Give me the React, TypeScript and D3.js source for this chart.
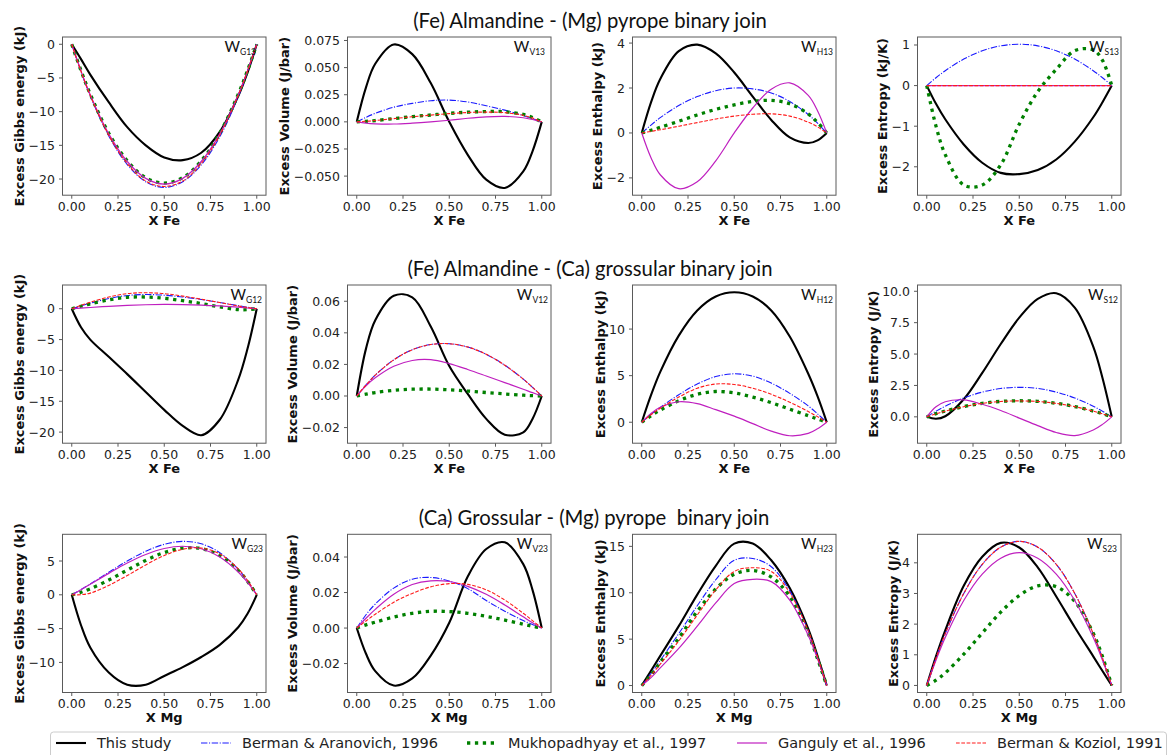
import React from 'react';
import * as d3 from 'd3';

// ---------- data ----------
const xFrac = [0, 0.05, 0.1, 0.2, 0.3, 0.4, 0.5, 0.6, 0.7, 0.8, 0.9, 0.95, 1];
const xTicks = [0, 0.25, 0.5, 0.75, 1];

const seriesNames = ['This study', 'Berman & Aranovich, 1996', 'Mukhopadhyay et al., 1997', 'Ganguly et al., 1996', 'Berman & Koziol, 1991'];

// Row 1: (Fe) Almandine - (Mg) pyrope
const g13This = [0, -2.2, -4.5, -8.6, -12.3, -15.0, -16.8, -17.2, -16.1, -13.0, -7.7, -4.2, 0];
const g13BA = [0, -4.04, -7.65, -13.6, -17.85, -20.4, -21.25, -20.4, -17.9, -13.75, -7.8, -4.1, 0];
const g13Mu = [0, -3.9, -7.4, -13.2, -17.3, -19.8, -20.6, -19.8, -17.3, -13.2, -7.4, -3.9, 0];
const g13Ga = [0, -3.95, -7.5, -13.3, -17.4, -19.9, -20.75, -19.9, -17.4, -13.3, -7.5, -3.95, 0];
const g13BK = [0, -4.0, -7.6, -13.5, -17.7, -20.3, -21.1, -20.3, -17.7, -13.5, -7.6, -4.0, 0];

const v13This = [0, 0.0318, 0.0535, 0.0713, 0.0624, 0.0357, 0, -0.0304, -0.0533, -0.0609, -0.0456, -0.0271, 0];
const v13BA = [0, 0.0042, 0.0078, 0.0135, 0.017, 0.0195, 0.02, 0.0183, 0.0148, 0.0108, 0.0058, 0.003, 0];
const v13Mu = [0, 0.0005, 0.0012, 0.003, 0.0048, 0.0063, 0.0078, 0.0089, 0.0095, 0.0093, 0.0068, 0.004, 0];
const v13Ga = [0, -0.0012, -0.0018, -0.002, -0.0012, 0, 0.0015, 0.0033, 0.0046, 0.005, 0.0038, 0.0022, 0];
const v13BK = [0, 0.0005, 0.0012, 0.003, 0.0047, 0.0062, 0.0076, 0.0086, 0.009, 0.0085, 0.006, 0.0035, 0];

const h13This = [0, 1.36, 2.4, 3.64, 3.93, 3.54, 2.69, 1.62, 0.58, -0.2, -0.45, -0.33, 0];
const h13BA = [0, 0.35, 0.68, 1.22, 1.62, 1.88, 2.0, 1.96, 1.78, 1.4, 0.82, 0.44, 0];
const h13Mu = [0, 0.12, 0.25, 0.52, 0.8, 1.05, 1.25, 1.4, 1.45, 1.3, 0.85, 0.47, 0];
const h13Ga = [0, -1.1, -1.86, -2.48, -2.17, -1.24, 0, 1.11, 1.95, 2.23, 1.67, 0.99, 0];
const h13BK = [0, 0.07, 0.14, 0.3, 0.46, 0.62, 0.75, 0.83, 0.85, 0.75, 0.48, 0.27, 0];

const s13This = [0, -0.45, -0.83, -1.45, -1.9, -2.15, -2.18, -2.08, -1.82, -1.38, -0.78, -0.41, 0];
const s13BA = [0, 0.194, 0.367, 0.653, 0.857, 0.979, 1.02, 0.979, 0.857, 0.653, 0.367, 0.194, 0];
const s13Mu = [0, -1.0, -1.7, -2.45, -2.45, -1.95, -0.95, -0.15, 0.4, 0.86, 0.88, 0.62, 0];
const s13Ga = [0, 0, 0, 0, 0, 0, 0, 0, 0, 0, 0, 0, 0];
const s13BK = [0, 0, 0, 0, 0, 0, 0, 0, 0, 0, 0, 0, 0];

// Row 2: (Fe) Almandine - (Ca) grossular
const g12This = [0, -3.0, -5.0, -7.8, -10.6, -13.5, -16.4, -19.0, -20.5, -18.0, -11.5, -6.5, 0];
const g12BA = [0, 0.45, 0.9, 1.65, 2.15, 2.3, 2.2, 1.9, 1.5, 1.0, 0.5, 0.25, 0];
const g12Mu = [0, 0.4, 0.8, 1.45, 1.85, 1.9, 1.7, 1.3, 0.85, 0.3, -0.15, -0.15, 0];
const g12Ga = [0, 0.1, 0.2, 0.4, 0.55, 0.65, 0.7, 0.68, 0.6, 0.45, 0.25, 0.12, 0];
const g12BK = [0, 0.55, 1.05, 1.9, 2.45, 2.6, 2.45, 2.05, 1.55, 1.0, 0.45, 0.2, 0];

const v12This = [0, 0.03, 0.048, 0.0635, 0.0625, 0.044, 0.019, 0.0013, -0.0145, -0.0245, -0.023, -0.0145, 0];
const v12BA = [0, 0.007, 0.0132, 0.0229, 0.0293, 0.0326, 0.0331, 0.031, 0.0264, 0.0195, 0.0107, 0.0055, 0];
const v12Mu = [0, 0.0012, 0.0022, 0.0036, 0.0043, 0.0044, 0.0039, 0.0031, 0.0022, 0.0013, 0.0005, 0.0002, 0];
const v12Ga = [0, 0.0065, 0.0115, 0.0188, 0.0225, 0.023, 0.0205, 0.0168, 0.0127, 0.0085, 0.0043, 0.0021, 0];
const v12BK = [0, 0.007, 0.0132, 0.0229, 0.0293, 0.0326, 0.0331, 0.031, 0.0264, 0.0195, 0.0107, 0.0055, 0];

const h12This = [0, 2.9, 5.4, 9.3, 12.0, 13.5, 13.95, 13.5, 12.0, 9.2, 5.2, 2.8, 0];
const h12BA = [0, 0.85, 1.6, 2.95, 4.1, 4.9, 5.2, 4.95, 4.2, 3.1, 1.75, 0.9, 0];
const h12Mu = [0, 0.7, 1.3, 2.3, 3.0, 3.3, 3.15, 2.7, 2.1, 1.4, 0.7, 0.35, 0];
const h12Ga = [0, 0.95, 1.6, 2.2, 2.0, 1.35, 0.65, -0.15, -0.95, -1.45, -1.2, -0.7, 0];
const h12BK = [0, 0.8, 1.5, 2.7, 3.65, 4.1, 4.05, 3.65, 3.0, 2.15, 1.15, 0.6, 0];

const s12This = [0, -0.15, 0.05, 1.4, 3.5, 5.8, 7.9, 9.4, 9.85, 8.7, 5.6, 3.1, 0];
const s12BA = [0, 0.45, 0.85, 1.5, 1.97, 2.26, 2.35, 2.26, 1.97, 1.5, 0.85, 0.45, 0];
const s12Mu = [0, 0.25, 0.46, 0.82, 1.08, 1.23, 1.28, 1.23, 1.08, 0.82, 0.46, 0.25, 0];
const s12Ga = [0, 0.8, 1.2, 1.35, 1.0, 0.5, -0.1, -0.7, -1.25, -1.5, -1.05, -0.6, 0];
const s12BK = [0, 0.24, 0.45, 0.81, 1.07, 1.22, 1.27, 1.22, 1.07, 0.81, 0.45, 0.24, 0];

// Row 3: (Ca) Grossular - (Mg) pyrope
const g23This = [0, -4.5, -7.8, -11.5, -13.3, -13.3, -12.0, -10.7, -9.2, -7.4, -4.8, -2.8, 0];
const g23BA = [0, 0.77, 1.6, 3.33, 5.0, 6.45, 7.47, 7.9, 7.55, 6.23, 3.78, 2.07, 0];
const g23Mu = [0, 0.375, 0.88, 2.18, 3.65, 5.09, 6.25, 6.9, 6.85, 5.82, 3.62, 2.0, 0];
const g23Ga = [0, 0.76, 1.56, 3.17, 4.7, 5.97, 6.85, 7.18, 6.81, 5.59, 3.37, 1.84, 0];
const g23BK = [0, 0.02, 0.25, 1.39, 2.85, 4.42, 5.81, 6.74, 6.92, 6.05, 3.84, 2.14, 0];

const v23This = [0, -0.0145, -0.0243, -0.0324, -0.0284, -0.0155, 0.003, 0.029, 0.0445, 0.0483, 0.036, 0.0215, 0];
const v23BA = [0, 0.0075, 0.0135, 0.0225, 0.0275, 0.0285, 0.0265, 0.0222, 0.0155, 0.0095, 0.0042, 0.002, 0];
const v23Mu = [0, 0.0018, 0.0033, 0.0062, 0.0083, 0.0094, 0.0093, 0.0083, 0.0066, 0.0045, 0.0022, 0.001, 0];
const v23Ga = [0, 0.0055, 0.0105, 0.019, 0.0245, 0.0266, 0.0262, 0.0235, 0.019, 0.013, 0.0063, 0.003, 0];
const v23BK = [0, 0.004, 0.0078, 0.0145, 0.0195, 0.0232, 0.025, 0.0246, 0.0215, 0.0158, 0.0083, 0.0042, 0];

const h23This = [0, 1.6, 3.2, 6.4, 9.8, 12.9, 15.3, 15.3, 13.5, 10.5, 6.1, 3.2, 0];
const h23BA = [0, 1.3, 2.7, 5.6, 8.6, 11.4, 13.5, 13.7, 12.8, 10.2, 5.9, 3.1, 0];
const h23Mu = [0, 1.15, 2.5, 5.1, 8.0, 10.4, 12.0, 12.4, 11.7, 9.6, 5.6, 2.9, 0];
const h23Ga = [0, 0.85, 1.9, 4.0, 6.4, 8.9, 11.0, 11.45, 11.2, 9.2, 5.4, 2.9, 0];
const h23BK = [0, 1.1, 2.3, 4.8, 7.6, 10.3, 12.3, 12.7, 12.3, 10.0, 5.9, 3.1, 0];

const s23This = [0, 0.95, 1.8, 3.25, 4.2, 4.65, 4.5, 3.85, 2.9, 1.9, 0.95, 0.47, 0];
const s23BA = [0, 0.89, 1.69, 3.0, 3.95, 4.51, 4.7, 4.51, 3.95, 3.0, 1.69, 0.89, 0];
const s23Mu = [0, 0.17, 0.41, 1.02, 1.71, 2.39, 2.93, 3.25, 3.22, 2.74, 1.7, 0.94, 0];
const s23Ga = [0, 0.82, 1.56, 2.77, 3.63, 4.15, 4.33, 4.15, 3.63, 2.77, 1.56, 0.82, 0];
const s23BK = [0, 0.89, 1.69, 3.0, 3.95, 4.51, 4.7, 4.51, 3.95, 3.0, 1.69, 0.89, 0];

// axis ticks
const gTicks1 = [0, -5, -10, -15, -20];
const v13Ticks = [0.075, 0.05, 0.025, 0, -0.025, -0.05];
const h13Ticks = [4, 2, 0, -2];
const s13Ticks = [1, 0, -1, -2];
const v12Ticks = [0.06, 0.04, 0.02, 0, -0.02];
const h12Ticks = [10, 5, 0];
const s12Ticks = [10, 7.5, 5, 2.5, 0];
const g23Ticks = [5, 0, -5, -10];
const v23Ticks = [0.04, 0.02, 0, -0.02];
const h23Ticks = [15, 10, 5, 0];
const s23Ticks = [4, 3, 2, 1, 0];

const rowTitles = ['(Fe) Almandine - (Mg) pyrope binary join', '(Fe) Almandine - (Ca) grossular binary join', '(Ca) Grossular - (Mg) pyrope  binary join'];

// ---------- styles / layout ----------
const seriesStyles = [
  { stroke: '#000000', width: 2.1, dash: '' },
  { stroke: '#1a1aff', width: 1.1, dash: '6.4 1.6 1.1 1.6' },
  { stroke: '#008000', width: 3.3, dash: '3.3 4.6' },
  { stroke: '#bf1fbf', width: 1.2, dash: '' },
  { stroke: '#ff1a1a', width: 1.1, dash: '3.7 1.6' },
];
const COL_LEFT = [62.5, 347.5, 632.5, 917.5];
const PW = 203.5;
const ROW_TOP = [37, 285, 534.3];
const PH = 158.2;
const TITLE_X = [590, 590, 594];
const TITLE_W = 355;
const FRAME = '#5a5a5a';
const TICK_FONT = 12.5;
const LABEL_FONT = 13;

const panels = [
  { row: 0, col: 0, w: 'G13', wShift: -10, ylabel: 'Excess Gibbs energy (kJ)', xlabel: 'X Fe', yDomain: [-22.4, 1.08], ticks: gTicks1, dec: 0, data: [g13This, g13BA, g13Mu, g13Ga, g13BK] },
  { row: 0, col: 1, w: 'V13', wShift: -6, ylabel: 'Excess Volume (J/bar)', xlabel: 'X Fe', yDomain: [-0.0676, 0.0782], ticks: v13Ticks, dec: 3, data: [v13This, v13BA, v13Mu, v13Ga, v13BK] },
  { row: 0, col: 2, w: 'H13', wShift: -3, ylabel: 'Excess Enthalpy (kJ)', xlabel: 'X Fe', yDomain: [-2.77, 4.27], ticks: h13Ticks, dec: 0, data: [h13This, h13BA, h13Mu, h13Ga, h13BK] },
  { row: 0, col: 3, w: 'S13', wShift: -2, ylabel: 'Excess Entropy (kJ/K)', xlabel: 'X Fe', yDomain: [-2.7, 1.197], ticks: s13Ticks, dec: 0, data: [s13This, s13BA, s13Mu, s13Ga, s13BK] },
  { row: 1, col: 0, w: 'G12', wShift: -4, ylabel: 'Excess Gibbs energy (kJ)', xlabel: 'X Fe', yDomain: [-21.8, 3.85], ticks: gTicks1, dec: 0, data: [g12This, g12BA, g12Mu, g12Ga, g12BK] },
  { row: 1, col: 1, w: 'V12', wShift: -3, ylabel: 'Excess Volume (J/bar)', xlabel: 'X Fe', yDomain: [-0.0299, 0.0703], ticks: v12Ticks, dec: 2, data: [v12This, v12BA, v12Mu, v12Ga, v12BK] },
  { row: 1, col: 2, w: 'H12', wShift: -3, ylabel: 'Excess Enthalpy (kJ)', xlabel: 'X Fe', yDomain: [-2.25, 14.73], ticks: h12Ticks, dec: 0, data: [h12This, h12BA, h12Mu, h12Ga, h12BK] },
  { row: 1, col: 3, w: 'S12', wShift: -3, ylabel: 'Excess Entropy (J/K)', xlabel: 'X Fe', yDomain: [-2.1, 10.5], ticks: s12Ticks, dec: 1, data: [s12This, s12BA, s12Mu, s12Ga, s12BK] },
  { row: 2, col: 0, w: 'G23', wShift: -3, ylabel: 'Excess Gibbs energy (kJ)', xlabel: 'X Mg', yDomain: [-14.45, 8.95], ticks: g23Ticks, dec: 0, data: [g23This, g23BA, g23Mu, g23Ga, g23BK] },
  { row: 2, col: 1, w: 'V23', wShift: -3, ylabel: 'Excess Volume (J/bar)', xlabel: 'X Mg', yDomain: [-0.0363, 0.0528], ticks: v23Ticks, dec: 2, data: [v23This, v23BA, v23Mu, v23Ga, v23BK] },
  { row: 2, col: 2, w: 'H23', wShift: -3, ylabel: 'Excess Enthalpy (kJ)', xlabel: 'X Mg', yDomain: [-0.75, 16.3], ticks: h23Ticks, dec: 0, data: [h23This, h23BA, h23Mu, h23Ga, h23BK] },
  { row: 2, col: 3, w: 'S23', wShift: -4, ylabel: 'Excess Entropy (J/K)', xlabel: 'X Mg', yDomain: [-0.23, 4.93], ticks: s23Ticks, dec: 0, data: [s23This, s23BA, s23Mu, s23Ga, s23BK] },
];

const LEGEND_HANDLE_X = [56, 201, 467, 737, 956];

let ctx: CanvasRenderingContext2D | null = null;
function measure(text: string, font: string): number {
  if (!ctx) ctx = document.createElement('canvas').getContext('2d');
  if (!ctx) return text.length * 7;
  ctx.font = font;
  return ctx.measureText(text).width;
}

function fmt(v: number, dec: number): string {
  const s = Math.abs(v).toFixed(dec);
  return (v < -1e-12 ? '\u2212' : '') + s;
}

function Panel({ p }: { p: any }) {
  const left = COL_LEFT[p.col];
  const top = ROW_TOP[p.row];
  const x = d3.scaleLinear().domain([-0.05, 1.05]).range([left, left + PW]);
  const y = d3.scaleLinear().domain(p.yDomain).range([top + PH, top]);
  const line = d3
    .line<number>()
    .x((_, i) => x(xFrac[i]))
    .y((d) => y(d))
    .curve(d3.curveCatmullRom.alpha(0.5));
  const labels = p.ticks.map((t: number) => fmt(t, p.dec));
  const maxW = Math.max(...labels.map((s: string) => measure(s, `${TICK_FONT}px "DejaVu Sans"`)));
  const tickLabelRight = left - 7.5;
  const ylabX = tickLabelRight - maxW - 4.5;
  const cy = top + PH / 2;
  return (
    <g>
      {p.data.map((arr: number[], i: number) => {
        const st = seriesStyles[i];
        return (
          <path
            key={i}
            d={line(arr) || ''}
            fill="none"
            stroke={st.stroke}
            strokeWidth={st.width}
            strokeDasharray={st.dash || undefined}
          />
        );
      })}
      <rect x={left} y={top} width={PW} height={PH} fill="none" stroke={FRAME} strokeWidth={1} />
      {p.ticks.map((t: number, i: number) => (
        <g key={'y' + i}>
          <line x1={left - 3.5} x2={left} y1={y(t)} y2={y(t)} stroke={FRAME} strokeWidth={1} />
          <text x={tickLabelRight} y={y(t) + 4.5} textAnchor="end" fontSize={TICK_FONT} fontFamily="DejaVu Sans" fill="#222">
            {labels[i]}
          </text>
        </g>
      ))}
      {xTicks.map((t, i) => (
        <g key={'x' + i}>
          <line x1={x(t)} x2={x(t)} y1={top + PH} y2={top + PH + 3.5} stroke={FRAME} strokeWidth={1} />
          <text x={x(t)} y={top + PH + 15.5} textAnchor="middle" fontSize={TICK_FONT} fontFamily="DejaVu Sans" fill="#222">
            {t.toFixed(2)}
          </text>
        </g>
      ))}
      <text x={left + PW / 2} y={top + PH + 29.5} textAnchor="middle" fontSize={LABEL_FONT} fontWeight="bold" fontFamily="DejaVu Sans" fill="#111">
        {p.xlabel}
      </text>
      <text
        transform={`translate(${ylabX},${cy}) rotate(-90)`}
        textAnchor="middle"
        fontSize={LABEL_FONT}
        fontWeight="bold"
        fontFamily="DejaVu Sans"
        fill="#111"
      >
        {p.ylabel}
      </text>
      <text x={left + PW + p.wShift} y={top + 15} textAnchor="end" fontFamily="Lato" fill="#111">
        <tspan fontSize={15}>W</tspan>
        <tspan fontSize={8.5} dy={3}>{p.w}</tspan>
      </text>
    </g>
  );
}

export default function App() {
  const titleFont = (s: number) => `${s}px Lato`;
  const w0 = measure(rowTitles[0], titleFont(20));
  const titleSize = (20 * TITLE_W) / (w0 || TITLE_W);
  const titleY = ROW_TOP.map((t) => t - 9);
  const legFont = 14.5;
  return (
    <svg
      width={1172}
      height={755}
      viewBox="0 0 1172 755"
      style={{ position: 'absolute', left: 0, top: 0, background: '#fff' }}
    >
      <rect x={0} y={0} width={1172} height={755} fill="#fff" />
      {rowTitles.map((t, i) => (
        <text
          key={i}
          x={TITLE_X[i]}
          y={titleY[i]}
          textAnchor="middle"
          fontFamily="Lato"
          fontSize={titleSize}
          fill="#111"
          style={{ whiteSpace: 'pre' }}
        >
          {t}
        </text>
      ))}
      {panels.map((p, i) => (
        <Panel key={i} p={p} />
      ))}
      <rect x={50.5} y={732} width={1116} height={36} rx={3} fill="#fff" stroke="#cccccc" strokeWidth={1} />
      {seriesNames.map((name, i) => {
        const st = seriesStyles[i];
        const hx = LEGEND_HANDLE_X[i];
        return (
          <g key={i}>
            <line
              x1={hx}
              x2={hx + 30}
              y1={743}
              y2={743}
              stroke={st.stroke}
              strokeWidth={st.width}
              strokeDasharray={st.dash || undefined}
            />
            <text x={hx + 41} y={748} fontSize={legFont} fontFamily="DejaVu Sans" fill="#222">
              {name}
            </text>
          </g>
        );
      })}
    </svg>
  );
}
